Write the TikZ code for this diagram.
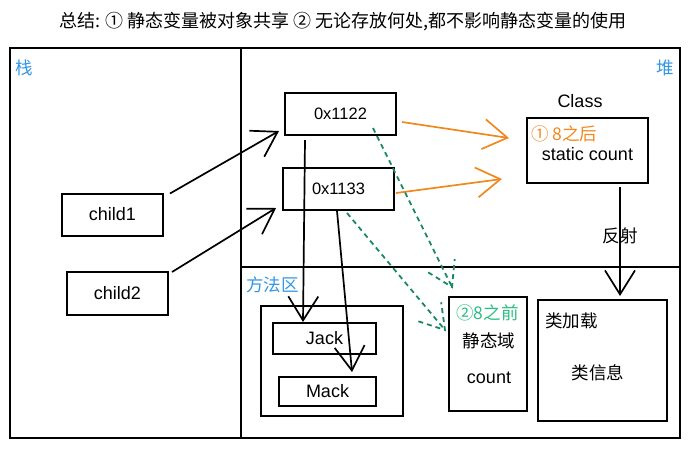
\documentclass[tikz,border=0pt]{standalone}
\usepackage{fontspec}
\setmainfont{Liberation Sans}
\newfontfamily\cjk{Noto Sans CJK SC}
\usetikzlibrary{arrows.meta,calc}

\definecolor{areablue}{RGB}{51,150,228}
\definecolor{afterorange}{RGB}{240,136,30}
\definecolor{dashgreen}{RGB}{28,136,98}
\definecolor{beforegreen}{RGB}{44,190,128}

\tikzset{
  box/.style={draw, line width=2pt, inner sep=0pt, font=\fontsize{18pt}{21pt}\selectfont},
  txt/.style={inner sep=0pt, font=\fontsize{18pt}{21pt}\selectfont},
  cjktxt/.style={inner sep=0pt, font=\cjk\fontsize{17.5pt}{20pt}\selectfont},
  area/.style={cjktxt, text=areablue},
  addr/.style={box, font=\fontsize{16.5pt}{20pt}\selectfont},
  barb/.style={line width=1.7pt, -{Straight Barb[length=24pt,width=30pt,line width=1.7pt]}},
  refarrow/.style={barb},
  classarrow/.style={barb, draw=afterorange},
  oldarrow/.style={line width=1.8pt, draw=dashgreen, dash pattern=on 5pt off 4pt},
}

\begin{document}
\begin{tikzpicture}[x=1pt,y=-1pt]
\useasboundingbox (0,0) rectangle (688,448);

% title
\node[cjktxt, font=\cjk\fontsize{18pt}{21pt}\selectfont] (title) at (343,22) {总结: ① 静态变量被对象共享 ② 无论存放何处,都不影响静态变量的使用};

% memory areas
\draw[line width=2pt] (10,48) rectangle (680,438);
\draw[line width=2pt] (241,48) -- (241,438);
\draw[line width=2pt] (241,267) -- (680,267);
\node[area, anchor=west] (stack) at (15,68) {栈};
\node[area, anchor=east] (heap) at (674,68) {堆};
\node[area, anchor=west] (method) at (246,285) {方法区};

% stack
\node[box, minimum width=101pt, minimum height=42pt] (child1) at (112.5,214.5) {child1};
\node[box, minimum width=101pt, minimum height=43pt] (child2) at (117.5,293.5) {child2};

% heap
\node[addr, minimum width=111pt, minimum height=42pt] (addr1) at (340.5,114) {0x1122};
\node[addr, minimum width=111pt, minimum height=42pt] (addr2) at (338.5,189) {0x1133};
\node[box, minimum width=121pt, minimum height=65pt] (class) at (587.5,150.5) {};
\node[txt] (classname) at (580,101) {Class};
\node[cjktxt, anchor=west, text=afterorange] (after) at (531,134) {① 8之后};
\node[txt] (scount) at (587.5,154) {static count};

% method area
\node[box, minimum width=142pt, minimum height=110pt] (pool) at (332,360.5) {};
\node[box, minimum width=103pt, minimum height=31pt] (jack) at (324.5,338.5) {Jack};
\node[box, minimum width=97pt, minimum height=29pt] (mack) at (327.5,391.5) {Mack};
\node[box, minimum width=78pt, minimum height=114pt] (static) at (488,354) {};
\node[cjktxt, text=beforegreen] (before) at (487.5,313) {②8之前};
\node[cjktxt] (field) at (489,341) {静态域};
\node[txt] (fcount) at (489,378) {count};
\node[box, minimum width=129pt, minimum height=121pt] (load) at (602.5,360.5) {};
\node[cjktxt, anchor=west] (loadname) at (545,321) {类加载};
\node[cjktxt] (info) at (598,373) {类信息};

% references
\draw[refarrow] ([xshift=6pt,yshift=-1pt]child1.north east) -- ([xshift=-5pt,yshift=5pt]addr1.south west);
\draw[refarrow] ([xshift=3pt,yshift=-1pt]child2.north east) -- ([xshift=-6pt,yshift=3pt]addr2.south west);
\draw[refarrow] ([xshift=-35.5pt,yshift=-4pt]addr1.south) -- ([xshift=-21.5pt]jack.north);
\draw[refarrow] ([xshift=-1.5pt]addr2.south) -- ([xshift=24.5pt,yshift=4pt]mack.north);
\draw[classarrow] ([xshift=5pt,yshift=-8pt]addr1.east) -- ([xshift=-17pt,yshift=12.5pt]class.west);
\draw[classarrow] ([xshift=1pt,yshift=-4pt]addr2.east) -- ([xshift=-24pt,yshift=-28.5pt]class.west);
\draw[refarrow] ([xshift=32.5pt,yshift=-3pt]class.south) -- ([xshift=17.5pt,yshift=3pt]load.north)
  node[cjktxt, pos=0.45] (reflect) {反射};

% before 8: dashed, barb drawn by hand so it stays dashed
\coordinate (old1s) at ([xshift=-24pt,yshift=8pt]addr1.south east);
\coordinate (old1t) at ([xshift=4pt,yshift=9pt]static.north west);
\coordinate (old2s) at ([xshift=8.5pt,yshift=-2pt]addr2.south);
\coordinate (old2t) at ([xshift=-3pt,yshift=24pt]static.west);
\draw[oldarrow] (old1s) -- (old1t);
\draw[oldarrow] ($(old1t)!28pt!32:(old1s)$) -- (old1t) -- ($(old1t)!28pt!-32:(old1s)$);
\draw[oldarrow] (old2s) -- (old2t);
\draw[oldarrow] ($(old2t)!28pt!32:(old2s)$) -- (old2t) -- ($(old2t)!28pt!-32:(old2s)$);

\end{tikzpicture}
\end{document}
